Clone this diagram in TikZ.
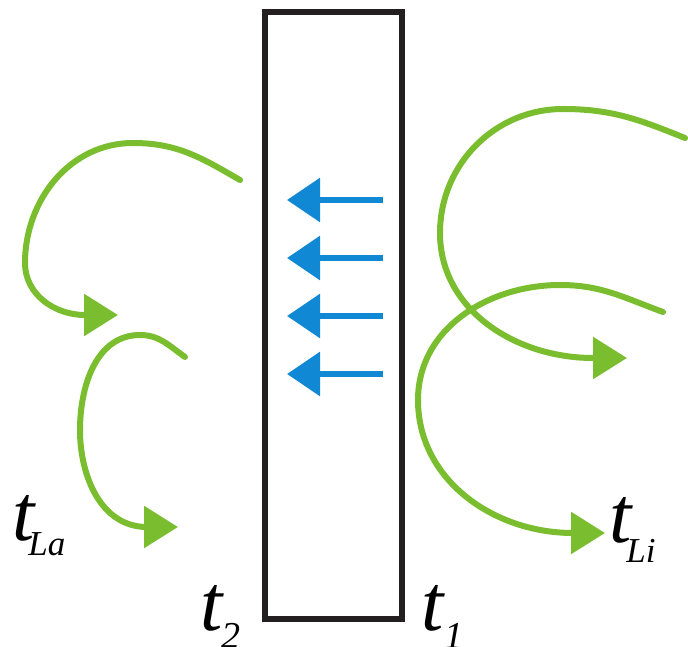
\documentclass[tikz,border=0pt]{standalone}
\usepackage{fontspec}
\setmainfont{Liberation Serif}
\usetikzlibrary{arrows.meta}
\definecolor{leaf}{RGB}{122,190,48}
\definecolor{flux}{RGB}{16,136,212}
\definecolor{wallink}{RGB}{35,31,32}
\begin{document}
\begin{tikzpicture}[x=1pt,y=1pt,
  swirl/.style={draw=leaf,line width=6pt,line cap=round,-{Triangle[length=34pt,width=41pt]}},
  heatflow/.style={draw=flux,line width=6pt,-{Triangle[length=33pt,width=43pt]}},
  wallbox/.style={draw=wallink,line width=6pt,inner sep=0pt,outer sep=0pt,minimum width=136.5pt,minimum height=607pt},
  lbl/.style={anchor=base west,inner sep=0pt,font=\fontsize{80}{80}\selectfont\itshape}]
\useasboundingbox (0,0) rectangle (688,646);
% wall
\node[wallbox] (wall) at (333.25,330.5) {};
% blue heat-flow arrows
\foreach \yy/\nm in {446/a,388/b,330/c,272/d}{
  \coordinate (s\nm) at (383,\yy);
  \coordinate (e\nm) at (287,\yy);
  \draw[heatflow] (s\nm) -- (e\nm);
}
% left swirls
\draw[swirl] (240,466) to[out=150,in=0] (133,503) to[out=180,in=90] (25,383) to[out=-90,in=180] (85,331) -- (118,331);
\draw[swirl] (185,289) to[out=145,in=0] (140,311) to[out=180,in=90] (80,216) to[out=-90,in=180] (147,119) -- (178,119);
% right swirls
\draw[swirl] (685,508) to[out=158,in=0] (563,537) to[out=180,in=90] (440,413) to[out=-90,in=180] (593,288) -- (627,288);
\draw[swirl] (663,334) to[out=160,in=0] (560,361) to[out=180,in=90] (418,246) to[out=-90,in=180] (573,113) -- (605,113);
% labels
\node[lbl] (tLa) at (12,106) {t\kern-6pt\raisebox{-15pt}{\fontsize{35}{35}\selectfont La}};
\node[lbl] (tLi) at (609,104) {t\kern-5pt\raisebox{-20pt}{\fontsize{35}{35}\selectfont Li}};
\node[lbl] (t2) at (200,16) {t\kern-1pt\raisebox{-18pt}{\fontsize{38}{38}\selectfont 2}};
\node[lbl] (t1) at (421,16) {t\kern1pt\raisebox{-18pt}{\fontsize{38}{38}\selectfont 1}};
\end{tikzpicture}
\end{document}
